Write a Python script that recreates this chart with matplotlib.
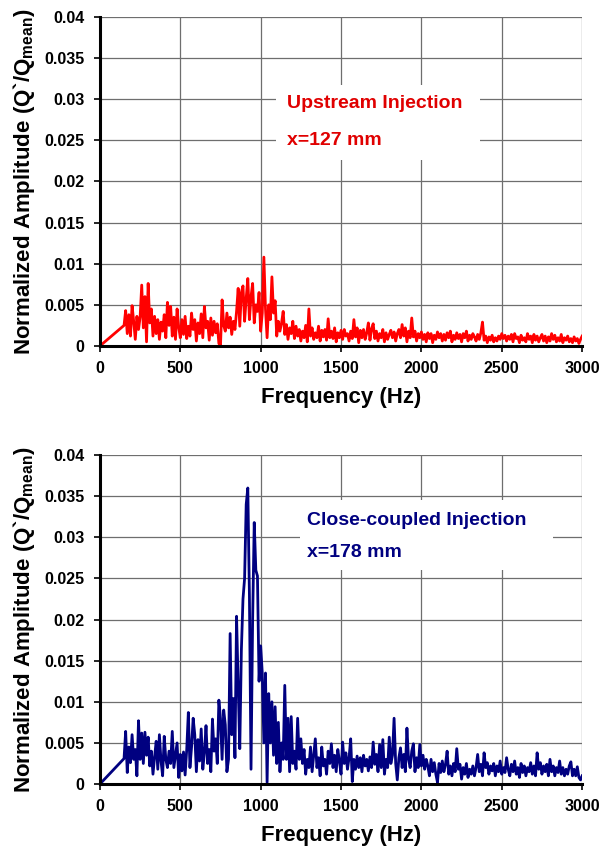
import numpy as np
import matplotlib
matplotlib.use("Agg")
import matplotlib.pyplot as plt
from matplotlib.patches import Rectangle
from matplotlib.ticker import MultipleLocator, FuncFormatter

plt.rcParams['font.family'] = ['Liberation Sans', 'DejaVu Sans']
plt.rcParams['font.weight'] = 'bold'
plt.rcParams['mathtext.fontset'] = 'custom'
plt.rcParams['mathtext.rm'] = 'Liberation Sans:bold'
plt.rcParams['mathtext.bf'] = 'Liberation Sans:bold'

# FFT bins: ramp from the origin, then 10 Hz spacing from 150 to 3000 Hz
freq = np.concatenate([[0], np.arange(150, 3001, 10)])

# upstream injection, x=127 mm (units of 1e-3)
upstream = [
    2.5, 4.3, 1.5, 3.8, 1.2, 4.9, 3.0, 0.8, 3.6, 2.0,
    3.5, 7.4, 2.2, 6.0, 0.5, 7.6, 2.8, 4.5, 1.2, 3.6,
    1.5, 3.2, 0.8, 2.9, 1.8, 3.8, 1.0, 5.3, 2.5, 4.8,
    1.2, 3.5, 0.8, 4.5, 2.3, 1.0, 3.2, 1.4, 3.6, 0.9,
    2.4, 1.2, 4.0, 2.0, 3.2, 0.6, 2.8, 1.5, 3.9, 1.0,
    4.8, 2.2, 3.0, 0.7, 3.4, 1.3, 3.0, 1.6, 2.7, 0.3,
    0.0, 5.6, 2.5, 1.8, 4.0, 2.2, 3.5, 1.4, 3.0, 2.0,
    4.2, 7.0, 2.4, 6.5, 7.3, 3.0, 5.8, 8.2, 3.2, 6.0,
    7.6, 2.8, 5.0, 4.2, 6.5, 1.8, 4.0, 10.8, 4.5, 1.0,
    5.0, 3.2, 8.4, 4.0, 5.5, 1.2, 3.0, 1.8, 2.8, 4.2,
    1.4, 2.6, 0.8, 2.2, 1.5, 3.0, 0.9, 2.4, 1.2, 2.0,
    0.6, 1.8, 1.0, 2.5, 0.5, 4.5, 1.2, 2.2, 0.8, 1.6,
    1.0, 2.4, 0.6, 1.9, 1.1, 2.0, 0.7, 3.3, 1.0, 1.8,
    0.9, 2.2, 0.5, 1.6, 1.0, 1.9, 0.8, 2.0, 1.2, 1.5,
    0.6, 1.8, 0.9, 3.2, 1.1, 2.2, 0.4, 1.9, 1.0, 2.0,
    0.8, 1.6, 2.8, 0.7, 2.1, 2.7, 0.9, 1.8, 0.6, 1.5,
    1.0, 2.0, 0.5, 1.6, 0.8, 1.4, 1.9, 1.0, 1.7, 0.6,
    1.5, 2.0, 1.0, 2.6, 1.2, 2.2, 0.5, 1.8, 1.0, 3.4,
    1.1, 1.8, 0.6, 1.5, 1.0, 1.7, 0.8, 1.4, 0.5, 1.6,
    0.9, 1.5, 0.4, 1.3, 0.8, 1.7, 1.0, 1.5, 0.6, 1.4,
    0.7, 1.6, 1.0, 1.8, 0.5, 1.3, 0.8, 1.6, 0.9, 1.4,
    0.5, 1.5, 1.0, 1.8, 0.6, 1.3, 0.8, 1.5, 1.1, 0.6,
    1.4, 0.8, 1.6, 2.9, 0.7, 1.2, 0.4, 1.1, 0.7, 1.3,
    0.5, 1.0, 0.6, 1.2, 0.8, 1.5, 0.9, 1.3, 0.6, 1.2,
    0.8, 1.4, 0.5, 1.5, 0.9, 1.1, 0.4, 1.3, 0.7, 1.0,
    0.5, 1.5, 0.8, 1.2, 0.4, 1.4, 0.7, 1.2, 0.5, 1.0,
    1.4, 0.6, 1.2, 0.4, 1.1, 0.6, 1.5, 0.8, 1.3, 0.5,
    1.0, 0.6, 1.4, 0.4, 1.0, 0.7, 1.2, 0.5, 0.9, 0.4,
    1.1, 0.6, 0.9, 0.3, 0.8, 1.2,
]

# close-coupled injection, x=178 mm (units of 1e-3)
close_coupled = [
    3.1, 6.4, 1.4, 4.5, 2.6, 6.0, 3.0, 4.2, 1.0, 7.7,
    3.0, 6.2, 2.5, 6.3, 3.5, 5.7, 2.2, 4.0, 1.2, 3.3,
    5.2, 1.8, 6.0, 2.8, 1.0, 5.8, 3.0, 2.0, 4.0, 2.5,
    6.4, 2.0, 3.5, 5.0, 0.8, 3.6, 1.6, 3.9, 1.1, 4.2,
    8.7, 2.0, 4.5, 8.0, 6.0, 1.5, 5.4, 2.8, 6.7, 1.8,
    3.8, 7.1, 2.5, 4.2, 1.5, 7.9, 4.0, 5.5, 2.5, 10.2,
    8.0, 3.0, 9.0, 7.2, 1.5, 3.0, 18.3, 6.0, 10.4, 3.2,
    20.4, 12.0, 4.3, 16.3, 22.5, 25.0, 34.0, 36.0, 23.0, 1.8,
    20.0, 31.8, 26.0, 25.3, 12.5, 16.8, 13.5, 5.0, 13.5, 0.2,
    11.0, 5.0, 10.0, 3.5, 9.4, 2.5, 7.5, 1.5, 5.0, 3.0,
    12.0, 3.0, 8.0, 1.5, 8.2, 2.5, 4.0, 1.8, 8.0, 3.0,
    5.5, 2.5, 4.2, 1.2, 3.0, 2.0, 4.5, 1.5, 3.5, 5.5,
    2.0, 3.2, 1.0, 4.5, 2.2, 3.0, 1.2, 4.0, 2.5, 4.9,
    2.0, 3.5, 1.5, 4.2, 2.8, 1.2, 5.1, 2.5, 3.8, 1.8,
    3.2, 5.5, 0.3, 3.0, 1.8, 3.4, 2.0, 3.2, 1.5, 3.5,
    2.2, 3.0, 1.6, 3.3, 2.0, 5.1, 2.4, 3.6, 1.5, 4.8,
    2.0, 5.4, 1.2, 3.0, 2.0, 5.7, 2.5, 3.5, 8.0, 2.5,
    0.5, 3.2, 4.4, 2.0, 3.6, 1.5, 6.8, 3.0, 2.0, 4.0,
    4.9, 1.5, 3.2, 2.0, 4.8, 2.2, 3.5, 1.8, 3.0, 2.2,
    1.0, 3.0, 1.5, 2.6, 1.2, 0.2, 2.5, 1.4, 2.8, 1.5,
    2.4, 4.0, 1.2, 2.2, 1.0, 2.5, 1.5, 4.3, 1.8, 2.4,
    0.6, 2.0, 1.2, 2.5, 0.8, 1.8, 1.2, 2.2, 1.0, 2.0,
    3.6, 1.5, 2.4, 1.0, 3.8, 2.0, 2.6, 1.2, 2.2, 1.6,
    2.5, 1.0, 2.2, 1.5, 2.8, 1.2, 2.0, 1.4, 3.2, 1.8,
    1.0, 2.4, 1.5, 2.8, 1.2, 2.0, 0.8, 2.5, 1.4, 2.2,
    1.0, 2.0, 1.5, 2.6, 1.2, 2.2, 1.0, 3.8, 1.8, 2.6,
    1.2, 2.2, 1.5, 2.4, 1.0, 3.0, 1.5, 2.2, 1.0, 2.0,
    1.4, 2.8, 1.2, 2.0, 1.0, 1.8, 1.2, 2.2, 2.7, 1.0,
    1.8, 1.0, 2.1, 0.8, 0.5, 1.0,
]

# (series, line colour, text colour, label lines, text x / line y's, white box, axes rect)
panels = [
    (upstream, '#ff0000', '#e00000', ['Upstream Injection', 'x=127 mm'],
     (1164, 0.0295, 0.0250), (1095, 0.0226, 1270, 0.0091),
     [0.166, 0.593, 0.801, 0.387]),
    (close_coupled, '#000080', '#000080', ['Close-coupled Injection', 'x=178 mm'],
     (1288, 0.0320, 0.0281), (1245, 0.0260, 1574, 0.0085),
     [0.166, 0.0776, 0.801, 0.387]),
]

fig = plt.figure(figsize=(6.02, 8.5), dpi=100)

for amps, line_color, text_color, label, tpos, box, rect in panels:
    ax = fig.add_axes(rect)
    amp = np.concatenate([[0.0], np.array(amps) * 1e-3])
    ax.plot(freq, amp, color=line_color, lw=2.0, zorder=3)

    ax.set_xlim(0, 3000)
    ax.set_ylim(0, 0.04)
    ax.xaxis.set_major_locator(MultipleLocator(500))
    ax.yaxis.set_major_locator(MultipleLocator(0.005))
    ax.yaxis.set_major_formatter(FuncFormatter(lambda v, p: '%g' % round(v, 4)))
    ax.grid(True, color='#6e6e6e', lw=0.9, zorder=0)
    ax.set_axisbelow(True)
    for s in ['top', 'right']:
        ax.spines[s].set_visible(False)
    for s in ['left', 'bottom']:
        ax.spines[s].set_linewidth(2.2)
        ax.spines[s].set_zorder(4)
    ax.tick_params(direction='out', length=4, width=1.2, labelsize=11.5, pad=7)
    for t in ax.get_xticklabels() + ax.get_yticklabels():
        t.set_fontweight('bold')

    ax.set_xlabel('Frequency (Hz)', fontsize=16, fontweight='bold', labelpad=8)
    ax.set_ylabel(r'Normalized Amplitude (Q`/Q$_{\rm mean}$)', fontsize=16,
                  fontweight='bold', labelpad=5)

    # white box behind the annotation hides the grid
    bx, by, bw, bh = box
    ax.add_patch(Rectangle((bx, by), bw, bh, facecolor='white', edgecolor='none',
                           zorder=1))
    x0, y1, y2 = tpos
    for txt, yy in zip(label, (y1, y2)):
        ax.text(x0, yy, txt, color=text_color, fontsize=14, fontweight='bold',
                ha='left', va='center', zorder=5)

fig.savefig('out.png', dpi=100)
